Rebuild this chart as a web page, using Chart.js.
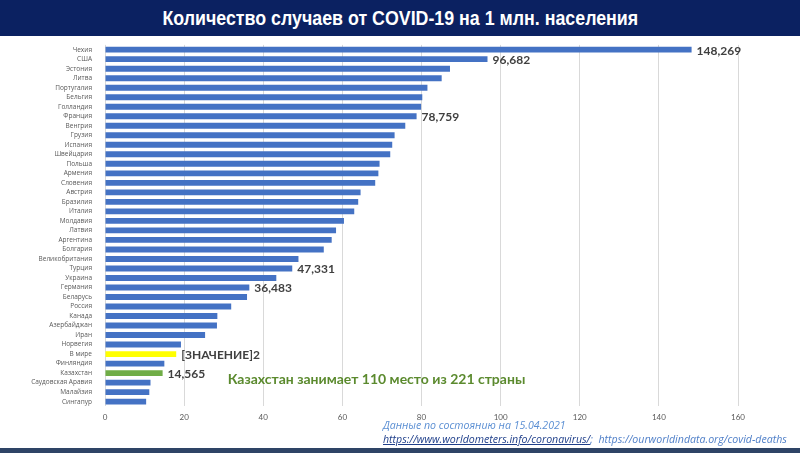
<!DOCTYPE html>
<html lang="ru">
<head>
<meta charset="utf-8">
<script src="https://cdn.jsdelivr.net/npm/chart.js@4/dist/chart.umd.min.js"></script>
<style>
  html, body { margin: 0; padding: 0; background: #fff; }
  #page { position: relative; width: 800px; height: 453px; overflow: hidden; }
  #title {
    position: absolute; left: 0; top: 0; width: 800px; height: 36px;
    background: #0b2161; color: #fff; text-align: center;
    font: bold 20px "Liberation Sans", Arial, sans-serif;
    line-height: 36px;
  }
  #title span { display: inline-block; transform: scaleX(0.89); }
  #wrap { position: absolute; left: 0; top: 36px; width: 800px; height: 392px; }
  #note1 {
    position: absolute; left: 383px; top: 418px;
    font: italic 10.6px "Open Sans", sans-serif; color: #5b8fd3;
  }
  #note2 {
    position: absolute; left: 383px; top: 432px;
    font: italic 10.6px "Open Sans", sans-serif; color: #4f7fc8; white-space: nowrap;
  }
  #note2 u { color: #1f3f8a; }
  #foot { position: absolute; left: 0; top: 448px; width: 800px; height: 5px; background: #2e4466; }
</style>
</head>
<body>
<div id="page">
  <div id="title"><span>Количество случаев от COVID-19 на 1 млн. населения</span></div>
  <div id="wrap"><canvas id="covidChart"></canvas></div>
  <div id="note1">Данные по состоянию на 15.04.2021</div>
  <div id="note2"><u>https://www.worldometers.info/coronavirus/</u>;&nbsp; https://ourworldindata.org/covid-deaths</div>
  <div id="foot"></div>
</div>
<script>
// Страны (сверху вниз)
const countries = ['Чехия', 'США', 'Эстония', 'Литва', 'Португалия', 'Бельгия', 'Голландия', 'Франция',
    'Венгрия', 'Грузия', 'Испания', 'Швейцария', 'Польша', 'Армения', 'Словения', 'Австрия', 'Бразилия',
    'Италия', 'Молдавия', 'Латвия', 'Аргентина', 'Болгария', 'Великобритания', 'Турция', 'Украина',
    'Германия', 'Беларусь', 'Россия', 'Канада', 'Азербайджан', 'Иран', 'Норвегия', 'В мире', 'Финляндия',
    'Казахстан', 'Саудовская Аравия', 'Малайзия', 'Сингапур'];

// Случаев на 1 млн (тыс.)
const cases = [148.269, 96.682, 87.2, 85.1, 81.5, 80.2, 79.9, 78.759, 75.9, 73.2, 72.6, 72.1, 69.4, 69.1,
    68.3, 64.6, 64.0, 63.0, 60.4, 58.4, 57.3, 55.3, 48.9, 47.331, 43.3, 36.483, 35.9, 31.9, 28.4, 28.3,
    25.3, 19.2, 18.0, 15.0, 14.565, 11.5, 11.2, 10.4];

// Подписи значений
const valueLabels = {
    'Чехия': '148,269', 'США': '96,682', 'Франция': '78,759', 'Турция': '47,331',
    'Германия': '36,483', 'В мире': '[ЗНАЧЕНИЕ]2', 'Казахстан': '14,565'
};

const xTicks = [0, 20, 40, 60, 80, 100, 120, 140, 160];

const barColors = countries.map(c => c === 'В мире' ? '#ffff00' : (c === 'Казахстан' ? '#70ad47' : '#4472c4'));

// Подписи у столбцов и текст про Казахстан
const labelPlugin = {
    id: 'labelPlugin',
    afterDatasetsDraw(chart) {
        const ctx = chart.ctx;
        const meta = chart.getDatasetMeta(0);
        ctx.save();
        ctx.font = 'bold 12px Lato, "Open Sans", sans-serif';
        ctx.fillStyle = '#404040';
        ctx.textAlign = 'left';
        ctx.textBaseline = 'middle';
        countries.forEach((c, i) => {
            if (valueLabels[c]) {
                const bar = meta.data[i];
                ctx.fillText(valueLabels[c], bar.x + 5, bar.y + 1);
            }
        });
        const xs = chart.scales.x, ys = chart.scales.y;
        ctx.font = 'bold 14px Lato, "Open Sans", sans-serif';
        ctx.fillStyle = '#5b8a2e';
        ctx.fillText('Казахстан занимает 110 место из 221 страны', xs.getPixelForValue(31), ys.getPixelForValue(34.7));
        ctx.restore();
    }
};

const ctx = document.getElementById('covidChart').getContext('2d');
const covidChart = new Chart(ctx, {
    type: 'bar',
    data: {
        labels: countries,
        datasets: [{
            data: cases,
            backgroundColor: barColors,
            categoryPercentage: 1.0,
            barPercentage: 0.62
        }]
    },
    options: {
        indexAxis: 'y',
        responsive: true,
        maintainAspectRatio: false,
        animation: false,
        layout: { padding: { top: 8, right: 62, bottom: 0, left: 0 } },
        plugins: {
            legend: { display: false },
            tooltip: { enabled: false }
        },
        scales: {
            x: {
                min: 0,
                max: 160,
                afterBuildTicks: (s) => { s.ticks = xTicks.map(v => ({ value: v })); },
                grid: { color: '#d9d9d9', drawTicks: false },
                border: { display: false },
                ticks: { color: '#595959', font: { size: 8, family: 'Lato, sans-serif' }, padding: 6 }
            },
            y: {
                afterFit: (s) => { s.width = 105; },
                grid: { display: false },
                border: { display: false },
                ticks: { color: '#595959', font: { size: 6.5, family: '"Open Sans", sans-serif' }, padding: 5, autoSkip: false }
            }
        }
    },
    plugins: [labelPlugin]
});
</script>
</body>
</html>
